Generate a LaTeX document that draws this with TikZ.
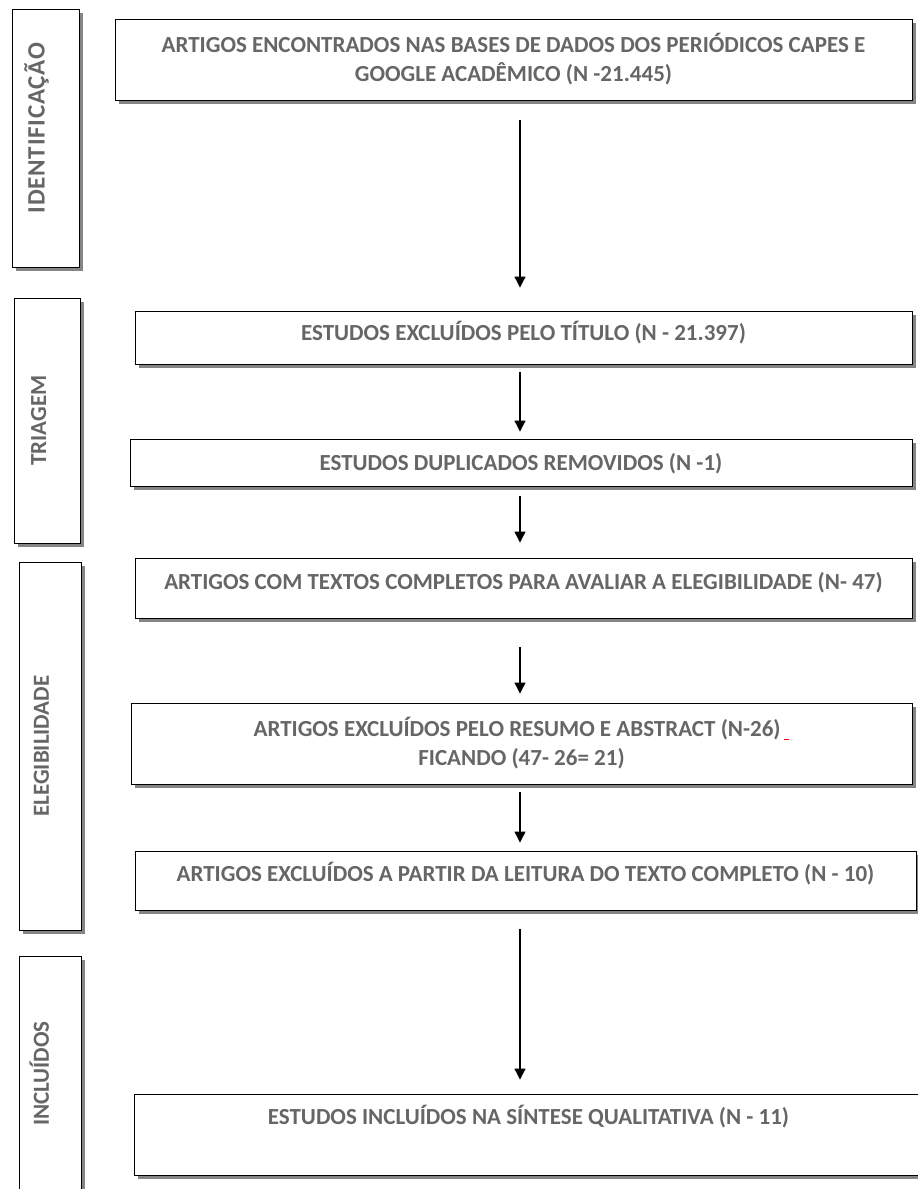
\documentclass[tikz,border=0pt]{standalone}
\usepackage{fontspec}
\setmainfont{Carlito}
\usepackage{graphicx}
\usetikzlibrary{arrows.meta,shadows}

\definecolor{labelgray}{HTML}{666666}
\definecolor{shadowgray}{HTML}{858585}

\tikzset{
  stage/.style={draw, line width=0.9pt, fill=white, inner sep=0pt,
    font=\fontsize{23}{29}\selectfont\bfseries, text=labelgray,
    drop shadow={shadow xshift=4pt, shadow yshift=-4pt, fill=shadowgray, opacity=1}},
  phase/.style={stage},
  box/.style={stage, align=center},
  oneline/.style={text height=15pt, text depth=#1},
  flow/.style={line width=1.1pt, -{Triangle[width=11pt,length=11pt]}}
}
\newcommand{\phaselabel}[2][0pt]{%
  \raisebox{0pt}[\height][#1]{\rotatebox{90}{\raisebox{0pt}[15pt][0pt]{#2}}}\hspace*{17pt}}

\begin{document}
\begin{tikzpicture}[x=1pt, y=-1pt]
\useasboundingbox (0,0) rectangle (918,1189);
% phases
\node[phase, minimum width=67pt, minimum height=258pt] (ident) at (45.5,138)
  {\phaselabel[20pt]{\fontsize{25}{29}\selectfont\addfontfeatures{LetterSpace=3}IDENTIFICAÇÃO}};
\node[phase, minimum width=66pt, minimum height=245pt] (triag) at (47,420.5)
  {\phaselabel{TRIAGEM}};
\node[phase, minimum width=62pt, minimum height=368pt] (eleg) at (50,746)
  {\phaselabel{ELEGIBILIDADE}};
\node[phase, minimum width=62pt, minimum height=235pt] (incl) at (50,1073.5)
  {\phaselabel{INCLUÍDOS}};
% steps
\node[box, minimum width=797pt, minimum height=81pt] (encontrados) at (513.5,59.5)
  {ARTIGOS ENCONTRADOS NAS BASES DE DADOS DOS PERIÓDICOS CAPES E\\GOOGLE ACADÊMICO (N -21.445)};
\node[box, oneline=9pt, minimum width=777pt, minimum height=53pt] (titulo) at (523.5,337.5)
  {ESTUDOS EXCLUÍDOS PELO TÍTULO (N - 21.397)};
\node[box, oneline=0pt, minimum width=782pt, minimum height=47pt] (duplicados) at (521,462.5)
  {ESTUDOS DUPLICADOS REMOVIDOS (N -1)};
\node[box, oneline=12pt, minimum width=777pt, minimum height=60pt] (completos) at (523.5,588)
  {ARTIGOS COM TEXTOS COMPLETOS PARA AVALIAR A ELEGIBILIDADE (N- 47)};
\node[box, minimum width=781pt, minimum height=81pt] (resumo) at (521.5,743.5)
  {ARTIGOS EXCLUÍDOS PELO RESUMO E ABSTRACT (N-26)\,\textcolor{red}{\rule[-3pt]{5pt}{1.2pt}}\\FICANDO (47- 26= 21)};
\node[box, oneline=13pt, minimum width=781pt, minimum height=59pt] (leitura) at (525.5,880.5)
  {ARTIGOS EXCLUÍDOS A PARTIR DA LEITURA DO TEXTO COMPLETO (N - 10)};
\node[box, oneline=35pt, minimum width=789pt, minimum height=81pt] (sintese) at (528.5,1134.5)
  {ESTUDOS INCLUÍDOS NA SÍNTESE QUALITATIVA (N - 11)};
% arrows
\coordinate (axis) at (520,0);
\draw[flow, shorten <=20pt, shorten >=23pt] (encontrados.south -| axis) -- (titulo.north -| axis);
\draw[flow, shorten <=8pt, shorten >=7pt] (titulo.south -| axis) -- (duplicados.north -| axis);
\draw[flow, shorten <=10pt, shorten >=15pt] (duplicados.south -| axis) -- (completos.north -| axis);
\draw[flow, shorten <=29pt, shorten >=9pt] (completos.south -| axis) -- (resumo.north -| axis);
\draw[flow, shorten <=8pt, shorten >=8pt] (resumo.south -| axis) -- (leitura.north -| axis);
\draw[flow, shorten <=19pt, shorten >=14pt] (leitura.south -| axis) -- (sintese.north -| axis);
\end{tikzpicture}
\end{document}
